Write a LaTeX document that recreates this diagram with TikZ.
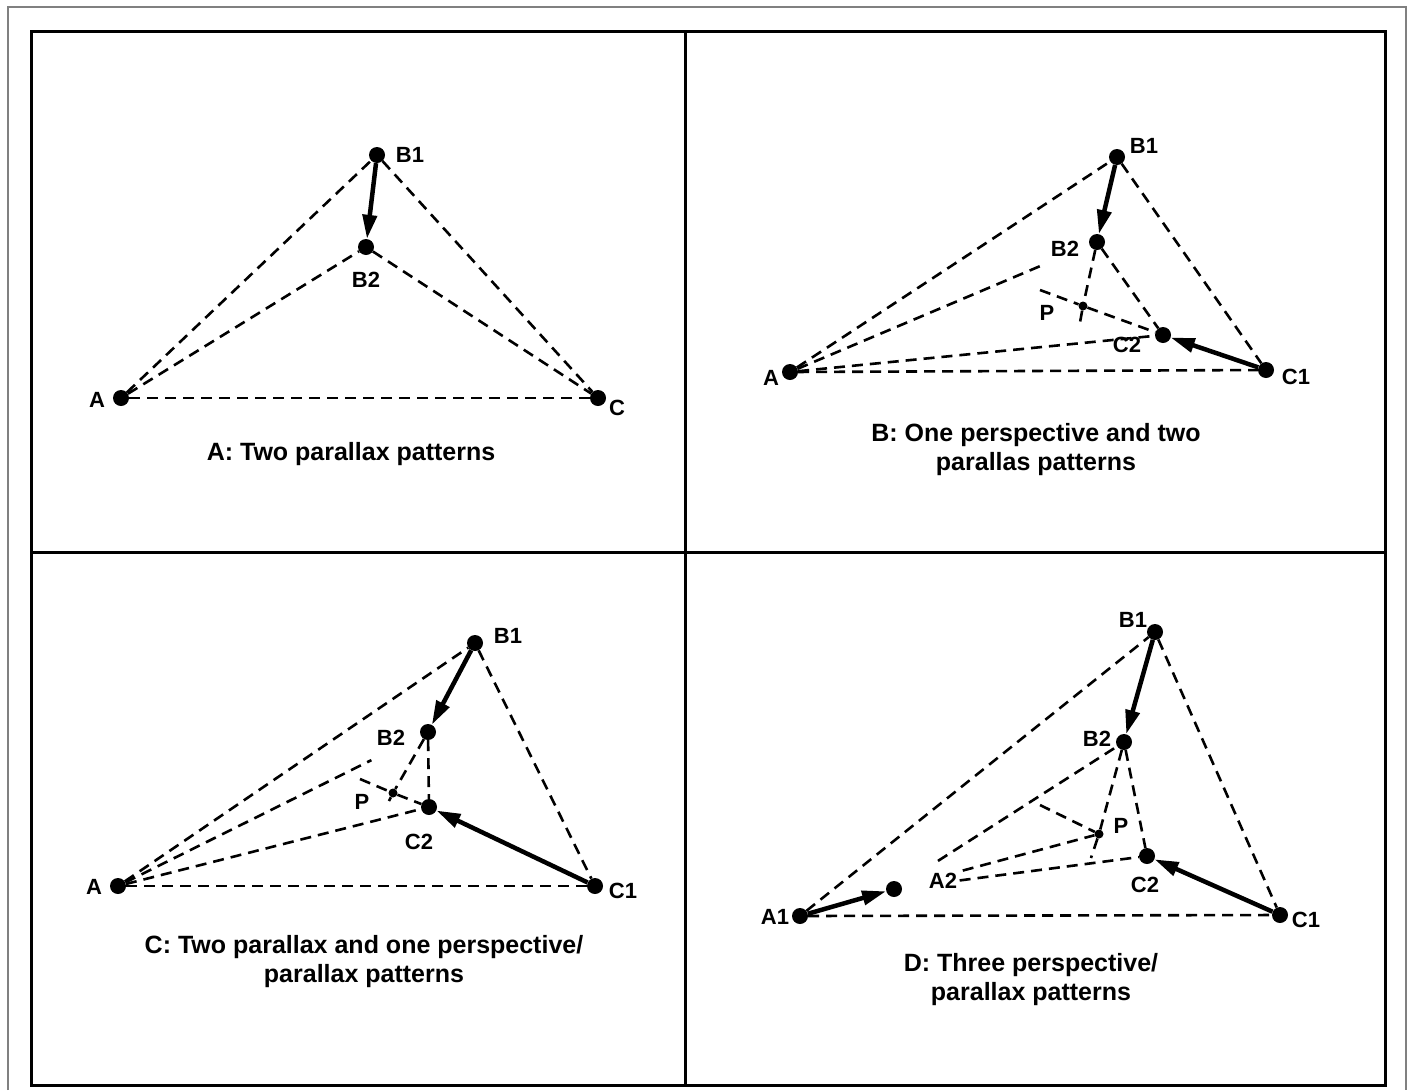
\documentclass[tikz,border=0pt]{standalone}
\usepackage{fontspec}
\setmainfont{Liberation Sans}
\usetikzlibrary{arrows.meta}

\tikzset{
  dot/.style={circle,fill=black,inner sep=0pt,minimum size=16pt},
  pdot/.style={circle,fill=black,inner sep=0pt,minimum size=9pt},
  ray/.style={dash pattern=on 11pt off 7pt,line width=2.6pt},
  mv/.style={line width=4.5pt,-{Triangle[length=24pt,width=14pt]}},
  lbl/.style={font=\fontsize{22}{26}\selectfont\bfseries},
  captxt/.style={font=\fontsize{25}{29}\selectfont\bfseries,align=center}
}

\begin{document}
\begin{tikzpicture}[x=1pt,y=-1pt]
    \useasboundingbox (0,0) rectangle (1410,1090);
    % frames
    \draw[gray,line width=1.2pt] (8,1090) -- (8,7) -- (1406,7) -- (1406,1090);
    \draw[line width=3pt] (31,31) rectangle (1385,1085);
    \draw[line width=3pt] (685,31) -- (685,1085);
    \draw[line width=3pt] (31,552) -- (1385,552);

    % panel A
    \node[dot] (aA) at (121,398) {};
    \node[dot] (aB1) at (377,155) {};
    \node[dot] (aB2) at (366,247) {};
    \node[dot] (aC) at (598,398) {};
    \draw[ray] (aA) -- (aB1);
    \draw[ray] (aA) -- (aB2);
    \draw[ray] (aB1) -- (aC);
    \draw[ray] (aB2) -- (aC);
    \draw[ray] (aA) -- (aC);
    \draw[mv] (aB1) -- (aB2);
    \node[lbl] (aAt) at (97,400) {A};
    \node[lbl] (aB1t) at (410,155) {B1};
    \node[lbl] (aB2t) at (366,280) {B2};
    \node[lbl] (aCt) at (617,408) {C};
    \node[captxt] (aCap) at (351,454) {A: Two parallax patterns};

    % panel B
    \node[dot] (bA) at (790,372) {};
    \node[dot] (bB1) at (1117,157) {};
    \node[dot] (bB2) at (1097,242) {};
    \node[pdot] (bP) at (1083,306) {};
    \node[dot] (bC2) at (1163,335) {};
    \node[dot] (bC1) at (1266,370) {};
    \coordinate (bPl) at (1040,290);
    \coordinate (bPd) at (1079,328);
    \draw[ray] (bA) -- (bB1);
    \draw[ray,shorten >=50pt] (bA) -- (bB2);
    \draw[ray] (bA) -- (bC2);
    \draw[ray] (bA) -- (bC1);
    \draw[ray] (bB1) -- (bC1);
    \draw[ray] (bB2) -- (bC2);
    \draw[ray] (bB2) -- (bP) -- (bPd);
    \draw[ray] (bPl) -- (bP) -- (bC2);
    \draw[mv] (bB1) -- (bB2);
    \draw[mv] (bC1) -- (bC2);
    \node[lbl] (bAt) at (771,378) {A};
    \node[lbl] (bB1t) at (1144,146) {B1};
    \node[lbl] (bB2t) at (1065,249) {B2};
    \node[lbl] (bPt) at (1047,313) {P};
    \node[lbl] (bC2t) at (1127,345) {C2};
    \node[lbl] (bC1t) at (1296,377) {C1};
    \node[captxt] (bCap) at (1036,450) {B: One perspective and two\\parallas patterns};

    % panel C
    \node[dot] (cA) at (118,886) {};
    \node[dot] (cB1) at (475,643) {};
    \node[dot] (cB2) at (428,732) {};
    \node[pdot] (cP) at (393,793) {};
    \node[dot] (cC2) at (429,807) {};
    \node[dot] (cC1) at (595,886) {};
    \coordinate (cPl) at (360,779);
    \coordinate (cPd) at (389,801);
    \draw[ray] (cA) -- (cB1);
    \draw[ray,shorten >=55pt] (cA) -- (cB2);
    \draw[ray] (cA) -- (cC2);
    \draw[ray] (cA) -- (cC1);
    \draw[ray] (cB1) -- (cC1);
    \draw[ray] (cB2) -- (cC2);
    \draw[ray] (cB2) -- (cP) -- (cPd);
    \draw[ray] (cPl) -- (cP) -- (cC2);
    \draw[mv] (cB1) -- (cB2);
    \draw[mv] (cC1) -- (cC2);
    \node[lbl] (cAt) at (94,887) {A};
    \node[lbl] (cB1t) at (508,636) {B1};
    \node[lbl] (cB2t) at (391,738) {B2};
    \node[lbl] (cPt) at (362,802) {P};
    \node[lbl] (cC2t) at (419,842) {C2};
    \node[lbl] (cC1t) at (623,891) {C1};
    \node[captxt] (cCap) at (364,962) {C: Two parallax and one perspective/\\parallax patterns};

    % panel D
    \node[dot] (dA1) at (800,916) {};
    \node[dot] (dA2) at (894,889) {};
    \node[dot] (dB1) at (1155,632) {};
    \node[dot] (dB2) at (1124,742) {};
    \node[pdot] (dP) at (1099,834) {};
    \node[dot] (dC2) at (1147,856) {};
    \node[dot] (dC1) at (1280,915) {};
    \coordinate (dPl) at (1040,805);
    \coordinate (dPd) at (1091,858);
    \draw[ray] (dA1) -- (dB1);
    \draw[ray,shorten <=44pt] (dA2) -- (dB2);
    \draw[ray,shorten <=63pt] (dA2) -- (dP);
    \draw[ray,shorten <=58pt] (dA2) -- (dC2);
    \draw[ray] (dA1) -- (dC1);
    \draw[ray] (dB1) -- (dC1);
    \draw[ray] (dB2) -- (dC2);
    \draw[ray] (dB2) -- (dP) -- (dPd);
    \draw[ray] (dPl) -- (dP);
    \draw[mv] (dA1) -- (dA2);
    \draw[mv] (dB1) -- (dB2);
    \draw[mv] (dC1) -- (dC2);
    \node[lbl] (dA1t) at (775,917) {A1};
    \node[lbl] (dA2t) at (943,881) {A2};
    \node[lbl] (dB1t) at (1133,620) {B1};
    \node[lbl] (dB2t) at (1097,739) {B2};
    \node[lbl] (dPt) at (1121,826) {P};
    \node[lbl] (dC2t) at (1145,885) {C2};
    \node[lbl] (dC1t) at (1306,920) {C1};
    \node[captxt] (dCap) at (1031,980) {D: Three perspective/\\parallax patterns};
\end{tikzpicture}
\end{document}
